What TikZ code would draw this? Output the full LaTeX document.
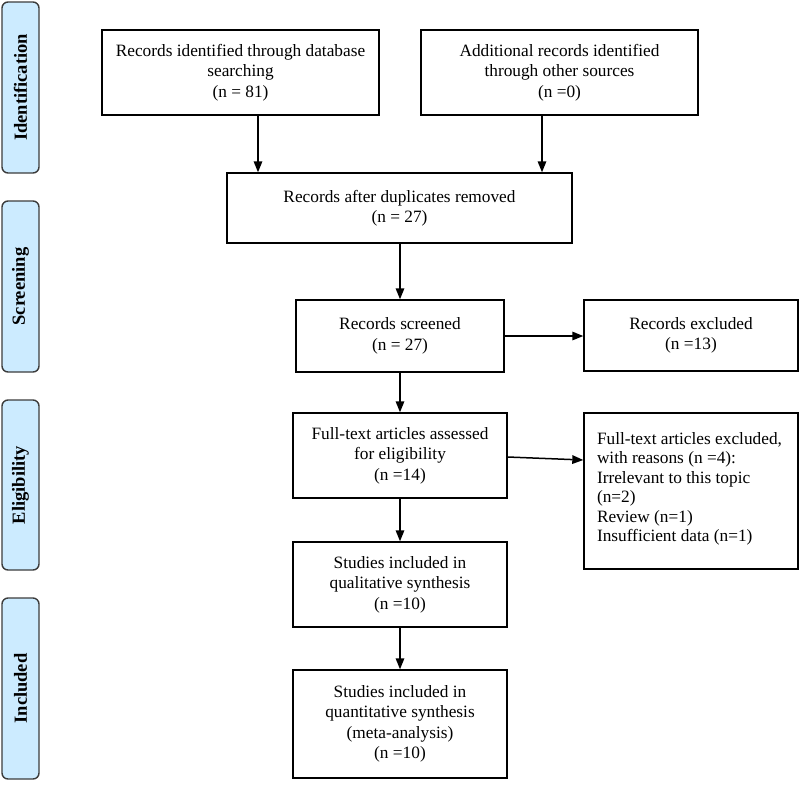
\documentclass[tikz,border=0pt]{standalone}
\usepackage{fontspec}
\setmainfont{Liberation Serif}
\usetikzlibrary{arrows.meta}
\definecolor{phasefill}{RGB}{204,235,255}
\definecolor{phaseborder}{RGB}{60,60,60}
\begin{document}
\begin{tikzpicture}[x=1pt,y=-1pt,
  box/.style={draw=black, line width=1.4pt, rectangle, inner sep=0pt, align=center,
              font=\fontsize{17.3}{20.5}\selectfont},
  phase/.style={draw=phaseborder, fill=phasefill, line width=1.4pt, rounded corners=6pt,
                rotate=90, inner sep=0pt, minimum height=37pt,
                font=\bfseries\fontsize{18.5}{20}\selectfont},
  arr/.style={line width=1.5pt, -{Triangle[length=11pt,width=8.5pt]}}]
\useasboundingbox (0,0) rectangle (800,785);

% phase labels
\node[phase, minimum width=171pt] (idn) at (20.5,87.5) {Identification};
\node[phase, minimum width=171pt] (scr) at (20.5,286.5) {Screening};
\node[phase, minimum width=170pt] (elg) at (20.5,485) {Eligibility};
\node[phase, minimum width=181pt] (inc) at (20.5,688.5) {Included};

% boxes
\node[box, minimum width=277pt, minimum height=85pt] (A) at (240.5,72.5)
  {Records identified through database\\ searching\\ (n = 81)};
\node[box, minimum width=277pt, minimum height=85pt] (B) at (559.5,72.5)
  {Additional records identified\\ through other sources\\ (n =0)};
\node[box, minimum width=345pt, minimum height=70pt] (C) at (399.5,208)
  {Records after duplicates removed\\ (n = 27)};
\node[box, minimum width=208pt, minimum height=72pt] (D) at (400,336)
  {Records screened\\ (n = 27)};
\node[box, minimum width=214pt, minimum height=71pt] (E) at (691,335.5)
  {Records excluded\\ (n =13)};
\node[box, minimum width=214pt, minimum height=85pt] (F) at (400,455.5)
  {Full-text articles assessed\\ for eligibility\\ (n =14)};
\node[box, minimum width=214pt, minimum height=156pt, align=left] (G) at (691,491)
  {\begin{minipage}[c][156pt][t]{214pt}\fontsize{17.3}{19.5}\selectfont\raggedright\leftskip=13pt\relax
   \vspace*{19pt}Full-text articles excluded,\\ with reasons (n =4):\\ Irrelevant to this topic\\ (n=2)\\ Review (n=1)\\ Insufficient data (n=1)\end{minipage}};
\node[box, minimum width=214pt, minimum height=85pt] (H) at (400,584.5)
  {Studies included in\\ qualitative synthesis\\ (n =10)};
\node[box, minimum width=214pt, minimum height=108pt] (I) at (400,724)
  {Studies included in\\ quantitative synthesis\\ (meta-analysis)\\ (n =10)};

% connectors
\coordinate (a1) at ([xshift=17.5pt]A.south);
\coordinate (b1) at ([xshift=-17.5pt]B.south);
\draw[arr] (a1) -- (a1 |- C.north);
\draw[arr] (b1) -- (b1 |- C.north);
\draw[arr] (C.south -| D.north) -- (D.north);
\draw[arr] (D.east) -- (D.east -| E.west);
\draw[arr] (D.south) -- (F.north);
\draw[arr] ([yshift=-1.5pt]F.east) -- ([yshift=31pt]G.west);
\draw[arr] (F.south) -- (H.north);
\draw[arr] (H.south) -- (I.north);
\end{tikzpicture}
\end{document}
